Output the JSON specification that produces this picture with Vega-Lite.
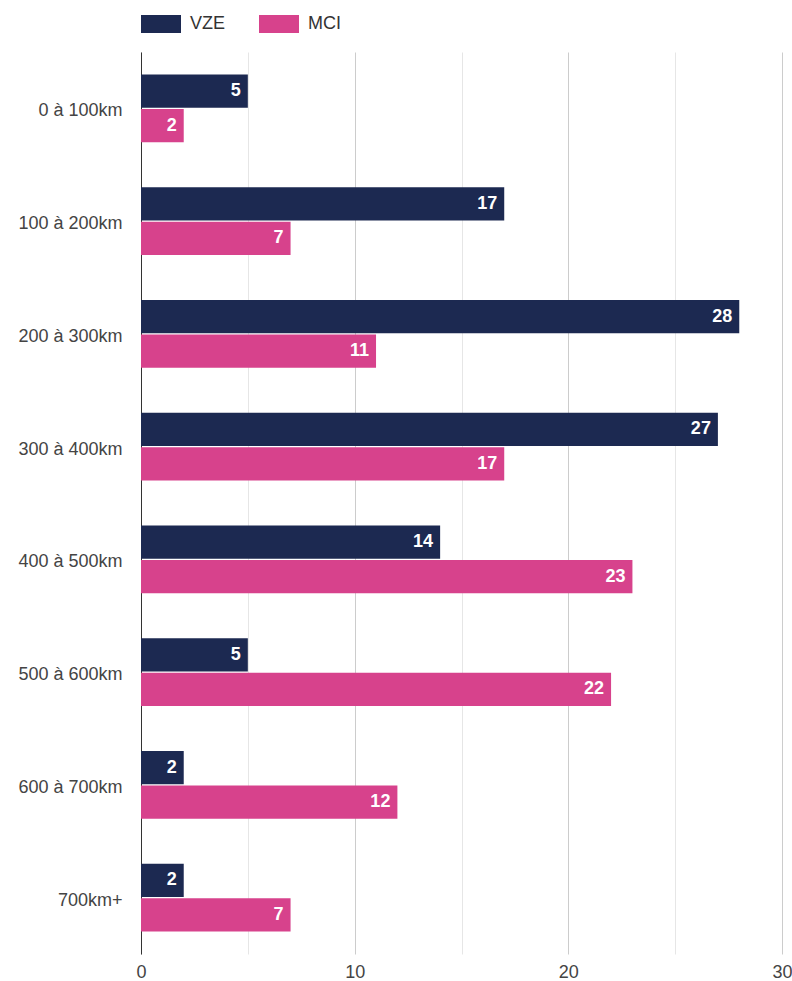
{
  "$schema": "https://vega.github.io/schema/vega-lite/v6.json",
  "autosize": {"type": "none"},
  "padding": {"left": 141, "top": 52, "right": 10, "bottom": 27},
  "width": 641,
  "height": 902,
  "background": "#ffffff",
  "config": {
    "font": "Liberation Sans",
    "view": {"stroke": null}
  },
  "data": {
    "values": [
      {"cat": "0 à 100km", "series": "VZE", "value": 5},
      {"cat": "0 à 100km", "series": "MCI", "value": 2},
      {"cat": "100 à 200km", "series": "VZE", "value": 17},
      {"cat": "100 à 200km", "series": "MCI", "value": 7},
      {"cat": "200 à 300km", "series": "VZE", "value": 28},
      {"cat": "200 à 300km", "series": "MCI", "value": 11},
      {"cat": "300 à 400km", "series": "VZE", "value": 27},
      {"cat": "300 à 400km", "series": "MCI", "value": 17},
      {"cat": "400 à 500km", "series": "VZE", "value": 14},
      {"cat": "400 à 500km", "series": "MCI", "value": 23},
      {"cat": "500 à 600km", "series": "VZE", "value": 5},
      {"cat": "500 à 600km", "series": "MCI", "value": 22},
      {"cat": "600 à 700km", "series": "VZE", "value": 2},
      {"cat": "600 à 700km", "series": "MCI", "value": 12},
      {"cat": "700km+", "series": "VZE", "value": 2},
      {"cat": "700km+", "series": "MCI", "value": 7}
    ]
  },
  "encoding": {
    "y": {
      "field": "cat",
      "type": "nominal",
      "sort": null,
      "scale": {"paddingInner": 0.4, "paddingOuter": 0.2},
      "axis": {
        "title": null,
        "ticks": false,
        "domain": true,
        "domainColor": "#333333",
        "domainWidth": 1,
        "labelFontSize": 18,
        "labelColor": "#444444",
        "labelPadding": 19,
        "labelOffset": 3
      }
    },
    "yOffset": {
      "field": "series",
      "type": "nominal",
      "sort": ["VZE", "MCI"],
      "scale": {"paddingInner": 0.03}
    },
    "x": {
      "field": "value",
      "type": "quantitative",
      "scale": {"domain": [0, 30], "nice": false},
      "axis": {
        "title": null,
        "values": [0, 5, 10, 15, 20, 25, 30],
        "labelExpr": "datum.value % 10 == 0 ? datum.label : ''",
        "labelFlush": false,
        "labelOverlap": false,
        "domain": false,
        "ticks": false,
        "grid": true,
        "gridColor": {"condition": {"test": "datum.value % 10 == 0", "value": "#cccccc"}, "value": "#e6e6e6"},
        "labelFontSize": 18,
        "labelColor": "#444444",
        "labelPadding": 9
      }
    }
  },
  "layer": [
    {
      "mark": {"type": "bar"},
      "encoding": {
        "color": {
          "field": "series",
          "type": "nominal",
          "sort": ["VZE", "MCI"],
          "scale": {"domain": ["VZE", "MCI"], "range": ["#1c2951", "#d7428c"]},
          "legend": {
            "title": null,
            "orient": "none",
            "legendX": 0,
            "legendY": -48,
            "direction": "horizontal",
            "symbolType": "M-1,-0.45H1V0.45H-1Z",
            "symbolSize": 1600,
            "symbolStrokeWidth": 0,
            "labelFontSize": 18,
            "labelColor": "#333333",
            "labelOffset": 9,
            "columnPadding": 33
          }
        }
      }
    },
    {
      "mark": {"type": "text", "align": "right", "dx": -7, "color": "#ffffff", "fontSize": 18, "fontWeight": "bold", "baseline": "middle"},
      "encoding": {
        "text": {"field": "value", "type": "quantitative"}
      }
    }
  ]
}
